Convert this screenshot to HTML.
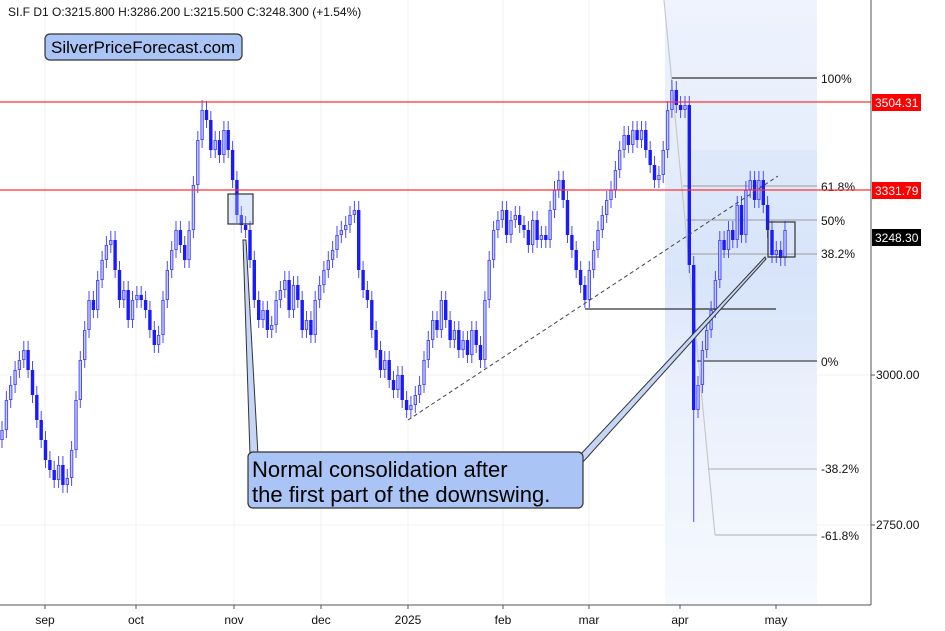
<!DOCTYPE html>
<html><head><meta charset="utf-8"><style>
body{margin:0;background:#fff;font-family:"Liberation Sans",Arial,sans-serif}
svg{display:block}
</style></head><body>
<svg width="945" height="631" xmlns="http://www.w3.org/2000/svg" font-family="Liberation Sans, Arial, sans-serif">
<defs>
<linearGradient id="fg" x1="0" y1="0" x2="0" y2="1">
<stop offset="0" stop-color="#eef3fd"/><stop offset="0.25" stop-color="#e6eefc"/><stop offset="0.45" stop-color="#d9e5fa"/><stop offset="0.6" stop-color="#e8effc"/><stop offset="1" stop-color="#f6f9fe"/>
</linearGradient>
</defs>
<rect x="0" y="0" width="945" height="631" fill="#fff"/>
<g stroke="#f0f0f0" stroke-width="1">
<line x1="45" y1="0" x2="45" y2="605"/><line x1="136" y1="0" x2="136" y2="605"/><line x1="234" y1="0" x2="234" y2="605"/><line x1="321" y1="0" x2="321" y2="605"/><line x1="408" y1="0" x2="408" y2="605"/><line x1="503" y1="0" x2="503" y2="605"/><line x1="589" y1="0" x2="589" y2="605"/><line x1="680" y1="0" x2="680" y2="605"/><line x1="776" y1="0" x2="776" y2="605"/>
<line x1="0" y1="375" x2="871" y2="375"/><line x1="0" y1="525" x2="871" y2="525"/>
</g>
<rect x="665" y="0" width="152" height="605" fill="url(#fg)"/>
<rect x="690" y="150" width="127" height="211" fill="#d6e3f9" opacity="0.5"/>
<line x1="664" y1="0" x2="715" y2="535" stroke="#c8c8c8" stroke-width="1.2"/>
<g stroke-width="1.2">
<line x1="672" y1="78" x2="817" y2="78" stroke="#333"/>
<line x1="683" y1="186" x2="817" y2="186" stroke="#aaa"/>
<line x1="686" y1="220" x2="817" y2="220" stroke="#aaa"/>
<line x1="690" y1="254" x2="817" y2="254" stroke="#aaa"/>
<line x1="697" y1="361" x2="817" y2="361" stroke="#444"/>
<line x1="708" y1="469" x2="817" y2="469" stroke="#bbb"/>
<line x1="715" y1="535" x2="817" y2="535" stroke="#bbb"/>
</g>
<g font-size="12" fill="#111">
<text x="821" y="83">100%</text><text x="821" y="191">61.8%</text><text x="821" y="225">50%</text><text x="821" y="258">38.2%</text><text x="821" y="366">0%</text><text x="821" y="473">-38.2%</text><text x="821" y="540">-61.8%</text>
</g>
<g fill="none">
<path stroke="#4a4aff" stroke-width="1" d="M2 421V448M6.4 391V438M10.7 376V408M15.1 361V393M19.4 351V378M23.8 341V368M58.6 456V488M67.3 469V493M71.6 441V486M76 391V458M80.3 351V408M84.7 321V368M89 291V338M97.7 271V318M102.1 251V288M106.4 236V268M110.8 231V253M123.8 281V308M132.5 291V328M136.9 286V308M158.6 326V353M163 291V343M167.3 261V308M171.7 241V278M176 221V258M189.1 221V268M193.4 176V238M197.8 131V193M202.1 100V148M215.2 131V158M223.9 121V163M263 301V328M271.7 316V338M276.1 291V333M280.4 281V308M284.8 271V298M293.5 276V318M306.5 311V338M315.2 291V343M319.6 276V308M323.9 261V293M328.3 251V278M332.6 241V268M337 226V258M341.3 221V243M345.7 216V238M350 206V233M354.4 201V223M384.8 351V378M397.9 366V398M410.9 396V418M415.3 386V413M419.6 376V403M424 351V393M428.3 331V368M432.7 311V348M441.4 291V338M454.4 321V348M463.1 331V358M471.8 321V363M484.9 291V368M489.2 251V308M493.6 221V268M497.9 211V238M502.3 201V228M511 211V243M515.3 206V228M532.7 211V253M541.4 226V248M550.1 201V248M554.5 181V218M558.8 171V198M589.3 261V308M593.6 241V278M598 221V258M602.3 206V238M606.7 191V223M611 181V208M615.4 161V198M619.7 141V178M624.1 126V158M632.8 121V153M641.5 121V148M658.9 166V188M663.2 141V183M667.6 101V158M671.9 80V118M685 96V118M698 376V418M702.4 341V393M706.7 321V358M711.1 301V338M715.4 271V318M719.8 231V288M728.5 221V258M737.2 196V248M745.9 181V243M750.2 171V198M758.9 171V208M776.3 241V263M785 221V266M28.1 341V378M32.5 361V403M36.8 386V428M41.2 411V448M45.5 431V468M49.9 451V478M54.2 461V488M62.9 456V493M93.4 291V318M115.1 231V278M119.5 261V308M128.2 281V328M141.2 286V308M145.6 291V318M149.9 301V338M154.3 321V353M180.4 221V253M184.7 236V268M206.5 101V128M210.8 111V158M219.5 131V163M228.2 121V158M232.6 141V188M236.9 171V223M241.3 206V233M245.6 216V238M250 221V268M254.3 251V308M258.7 291V328M267.4 301V338M289.1 271V318M297.8 276V308M302.2 291V338M310.9 311V343M358.7 201V278M363.1 261V298M367.4 281V308M371.8 291V338M376.1 321V358M380.5 341V378M389.2 351V388M393.5 371V398M402.2 366V408M406.6 391V418M437 311V338M445.7 291V328M450.1 311V348M458.8 321V358M467.5 331V363M476.2 321V353M480.5 336V368M506.6 201V243M519.7 206V233M524 216V238M528.4 221V253M537.1 211V248M545.8 226V248M563.2 171V208M567.5 191V243M571.9 226V258M576.2 241V278M580.6 261V293M584.9 276V308M628.4 126V153M637.1 121V148M645.8 121V158M650.2 141V173M654.5 156V188M676.3 81V113M680.6 96V118M689.3 96V273M693.7 256V522M724.1 231V258M732.8 221V248M741.5 196V243M754.6 171V208M763.3 171V213M767.6 196V238M772 221V263M780.7 241V266"/>
<path id="ub" stroke="#5050ff" stroke-width="3.4" d="M2 430V440M6.4 400V430M10.7 385V400M15.1 370V385M19.4 360V370M23.8 350V360M58.6 465V480M67.3 478V485M71.6 450V478M76 400V450M80.3 360V400M84.7 330V360M89 300V330M97.7 280V310M102.1 260V280M106.4 245V260M110.8 240V245M123.8 290V300M132.5 300V320M136.9 295V300M158.6 335V345M163 300V335M167.3 270V300M171.7 250V270M176 230V250M189.1 230V260M193.4 185V230M197.8 140V185M202.1 110V140M215.2 140V150M223.9 130V155M263 310V320M271.7 325V330M276.1 300V325M280.4 290V300M284.8 280V290M293.5 285V310M306.5 320V330M315.2 300V335M319.6 285V300M323.9 270V285M328.3 260V270M332.6 250V260M337 235V250M341.3 230V235M345.7 225V230M350 215V225M354.4 210V215M384.8 360V370M397.9 375V390M410.9 405V410M415.3 395V405M419.6 385V395M424 360V385M428.3 340V360M432.7 320V340M441.4 300V330M454.4 330V340M463.1 340V350M471.8 330V355M484.9 300V360M489.2 260V300M493.6 230V260M497.9 220V230M502.3 210V220M511 220V235M515.3 215V220M532.7 220V245M541.4 235V240M550.1 210V240M554.5 190V210M558.8 180V190M589.3 270V300M593.6 250V270M598 230V250M602.3 215V230M606.7 200V215M611 190V200M615.4 170V190M619.7 150V170M624.1 135V150M632.8 130V145M641.5 130V140M658.9 175V180M663.2 150V175M667.6 110V150M671.9 90V110M685 105V110M698 385V410M702.4 350V385M706.7 330V350M711.1 310V330M715.4 280V310M719.8 240V280M728.5 230V250M737.2 205V240M745.9 190V235M750.2 180V190M758.9 180V200M776.3 250V255M785 230V258"/>
<path stroke="#c4ccff" stroke-width="1.4" d="M2 431V439M6.4 401V429M10.7 386V399M15.1 371V384M19.4 361V369M23.8 351V359M58.6 466V479M67.3 479V484M71.6 451V477M76 401V449M80.3 361V399M84.7 331V359M89 301V329M97.7 281V309M102.1 261V279M106.4 246V259M110.8 241V244M123.8 291V299M132.5 301V319M136.9 296V299M158.6 336V344M163 301V334M167.3 271V299M171.7 251V269M176 231V249M189.1 231V259M193.4 186V229M197.8 141V184M202.1 111V139M215.2 141V149M223.9 131V154M263 311V319M271.7 326V329M276.1 301V324M280.4 291V299M284.8 281V289M293.5 286V309M306.5 321V329M315.2 301V334M319.6 286V299M323.9 271V284M328.3 261V269M332.6 251V259M337 236V249M341.3 231V234M345.7 226V229M350 216V224M354.4 211V214M384.8 361V369M397.9 376V389M410.9 406V409M415.3 396V404M419.6 386V394M424 361V384M428.3 341V359M432.7 321V339M441.4 301V329M454.4 331V339M463.1 341V349M471.8 331V354M484.9 301V359M489.2 261V299M493.6 231V259M497.9 221V229M502.3 211V219M511 221V234M515.3 216V219M532.7 221V244M541.4 236V239M550.1 211V239M554.5 191V209M558.8 181V189M589.3 271V299M593.6 251V269M598 231V249M602.3 216V229M606.7 201V214M611 191V199M615.4 171V189M619.7 151V169M624.1 136V149M632.8 131V144M641.5 131V139M658.9 176V179M663.2 151V174M667.6 111V149M671.9 91V109M685 106V109M698 386V409M702.4 351V384M706.7 331V349M711.1 311V329M715.4 281V309M719.8 241V279M728.5 231V249M737.2 206V239M745.9 191V234M750.2 181V189M758.9 181V199M776.3 251V254M785 231V257"/>
<path stroke="#1a1aff" stroke-width="3.4" d="M28.1 350V370M32.5 370V395M36.8 395V420M41.2 420V440M45.5 440V460M49.9 460V470M54.2 470V480M62.9 465V485M93.4 300V310M115.1 240V270M119.5 270V300M128.2 290V320M141.2 295V300M145.6 300V310M149.9 310V330M154.3 330V345M180.4 230V245M184.7 245V260M206.5 110V120M210.8 120V150M219.5 140V155M228.2 130V150M232.6 150V180M236.9 180V215M241.3 215V225M245.6 225V230M250 230V260M254.3 260V300M258.7 300V320M267.4 310V330M289.1 280V310M297.8 285V300M302.2 300V330M310.9 320V335M358.7 210V270M363.1 270V290M367.4 290V300M371.8 300V330M376.1 330V350M380.5 350V370M389.2 360V380M393.5 380V390M402.2 375V400M406.6 400V410M437 320V330M445.7 300V320M450.1 320V340M458.8 330V350M467.5 340V355M476.2 330V345M480.5 345V360M506.6 210V235M519.7 215V225M524 225V230M528.4 230V245M537.1 220V240M545.8 235V240M563.2 180V200M567.5 200V235M571.9 235V250M576.2 250V270M580.6 270V285M584.9 285V300M628.4 135V145M637.1 130V140M645.8 130V150M650.2 150V165M654.5 165V180M676.3 90V105M680.6 105V110M689.3 105V265M693.7 265V410M724.1 240V250M732.8 230V240M741.5 205V235M754.6 180V200M763.3 180V205M767.6 205V230M772 230V255M780.7 250V258"/>
</g>
<line x1="0" y1="102" x2="871" y2="102" stroke="#f33" stroke-width="1.3"/>
<line x1="0" y1="190" x2="871" y2="190" stroke="#f33" stroke-width="1.3"/>
<line x1="585" y1="309" x2="776" y2="309" stroke="#333" stroke-width="1.2"/>
<line x1="408" y1="420" x2="778" y2="176" stroke="#444" stroke-width="1" stroke-dasharray="4,3"/>
<rect x="228" y="194" width="25" height="30" fill="#a9c4f5" fill-opacity="0.35" stroke="#333" stroke-width="1.2"/>
<rect x="768" y="222" width="27" height="35" fill="none" stroke="#333" stroke-width="1.2"/>
<polygon points="250,455 243,240 246,240 258,455" fill="#c5d6f6" stroke="#333" stroke-width="1"/>
<polygon points="580,455 765,257 766,259 583,462" fill="#c5d6f6" stroke="#333" stroke-width="1"/>
<rect x="248" y="452" width="335" height="56" rx="5" fill="#a9c4f5" stroke="#333" stroke-width="1.2"/>
<text x="252" y="477" font-size="22" fill="#000">Normal consolidation after</text>
<text x="252" y="502" font-size="22" fill="#000">the first part of the downswing.</text>
<line x1="871" y1="0" x2="871" y2="605" stroke="#555" stroke-width="1"/>
<line x1="0" y1="605" x2="871" y2="605" stroke="#555" stroke-width="1"/>
<g stroke="#555"><line x1="871" y1="375" x2="875" y2="375"/><line x1="871" y1="525" x2="875" y2="525"/>
<line x1="45" y1="605" x2="45" y2="609"/><line x1="136" y1="605" x2="136" y2="609"/><line x1="234" y1="605" x2="234" y2="609"/><line x1="321" y1="605" x2="321" y2="609"/><line x1="408" y1="605" x2="408" y2="609"/><line x1="503" y1="605" x2="503" y2="609"/><line x1="589" y1="605" x2="589" y2="609"/><line x1="680" y1="605" x2="680" y2="609"/><line x1="776" y1="605" x2="776" y2="609"/></g>
<g font-size="12" fill="#111"><text x="876" y="379">3000.00</text><text x="876" y="529">2750.00</text></g>
<rect x="872" y="94" width="49" height="17" fill="#f00"/><text x="875" y="107" font-size="12" fill="#fff">3504.31</text>
<rect x="872" y="182" width="49" height="17" fill="#f00"/><text x="875" y="195" font-size="12" fill="#fff">3331.79</text>
<rect x="872" y="229" width="49" height="17" fill="#000"/><text x="875" y="242" font-size="12" fill="#fff">3248.30</text>
<g font-size="12" fill="#111" text-anchor="middle">
<text x="45" y="624">sep</text><text x="136" y="624">oct</text><text x="234" y="624">nov</text><text x="321" y="624">dec</text><text x="408" y="624">2025</text><text x="503" y="624">feb</text><text x="589" y="624">mar</text><text x="680" y="624">apr</text><text x="776" y="624">may</text></g>
<text x="8" y="16" font-size="12" fill="#111">SI.F  D1  O:3215.800  H:3286.200  L:3215.500  C:3248.300  (+1.54%)</text>
<rect x="45" y="34" width="197" height="26" rx="5" fill="#a9c4f5" stroke="#333" stroke-width="1.2"/>
<text x="51" y="53" font-size="17" fill="#000">SilverPriceForecast.com</text>
</svg>
</body></html>
